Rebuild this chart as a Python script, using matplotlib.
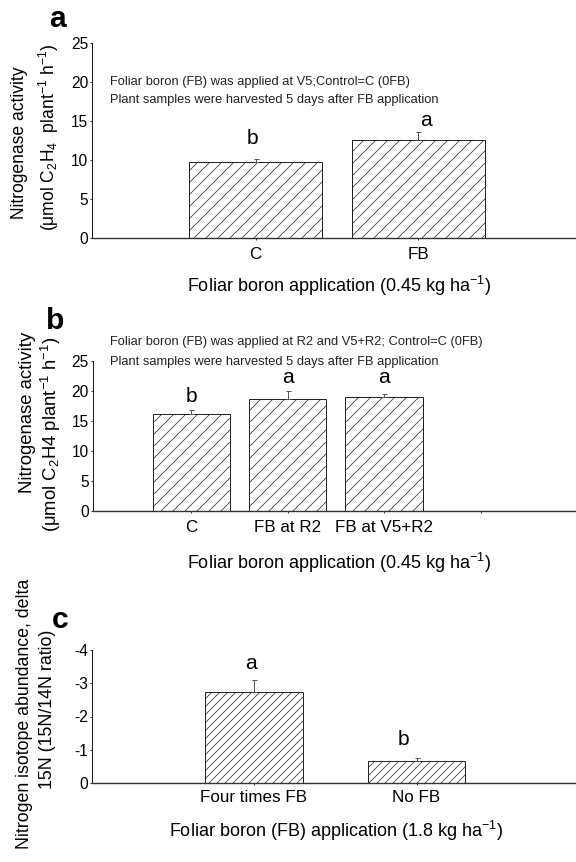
import matplotlib
matplotlib.use("Agg")
import matplotlib.pyplot as plt

plt.rcParams['font.family'] = ['Liberation Sans', 'DejaVu Sans']
plt.rcParams['mathtext.fontset'] = 'custom'
plt.rcParams['mathtext.rm'] = 'Liberation Sans'
plt.rcParams['mathtext.it'] = 'Liberation Sans:italic'
plt.rcParams['axes.unicode_minus'] = False
plt.rcParams['hatch.linewidth'] = 0.7

# Panel a: nitrogenase activity, boron at V5
a_cats = ['C', 'FB']
a_vals = [9.8, 12.6]
a_err = [0.35, 0.95]
a_letters = ['b', 'a']
a_letter_y = [12.7, 15.0]

# Panel b: nitrogenase activity, boron at R2 and V5+R2
b_cats = ['C', 'FB at R2', 'FB at V5+R2', '']
b_vals = [16.1, 18.75, 19.0]
b_err = [0.8, 1.3, 0.5]
b_letters = ['b', 'a', 'a']
b_letter_y = [19.0, 22.2, 22.2]

# Panel c: delta 15N
c_cats = ['Four times FB', 'No FB']
c_vals = [-2.75, -0.67]
c_err = [0.35, 0.07]
c_letters = ['a', 'b']
c_letter_y = [-3.6, -1.3]

W, H = 576, 862
fig = plt.figure(figsize=(W / 72, H / 72), dpi=72)

TICK_FS = 15.5
XT_FS = 17
LAB_FS = 18
NOTE_FS = 12.9
LET_FS = 21
PANEL_FS = 30


def ax_at(left, top, bottom):
    return fig.add_axes([left / W, 1 - bottom / H, 1 - left / W, (bottom - top) / H])


def style(ax):
    for s in ('top', 'right'):
        ax.spines[s].set_visible(False)
    ax.spines['left'].set_linewidth(0.9)
    ax.spines['bottom'].set_linewidth(1.4)
    ax.spines['bottom'].set_color('#333333')
    ax.tick_params(axis='y', length=2, width=0.8, labelsize=TICK_FS, pad=2)
    ax.tick_params(axis='x', length=2, width=0.8, labelsize=XT_FS, pad=7, direction='out')


def bars(ax, vals, err, width, hatch, neg=False):
    x = list(range(len(vals)))
    ax.bar(x, vals, width=width, color='white', edgecolor='#222222',
           linewidth=1.0, hatch=hatch, zorder=2)
    if neg:
        yerr = [err, [0] * len(err)]
    else:
        yerr = [[0] * len(err), err]
    ax.errorbar(x, vals, yerr=yerr, fmt='none', ecolor='#555555',
                elinewidth=1.0, capsize=2.5, capthick=1.0, zorder=3)


txt_kw = dict(fontsize=NOTE_FS, color='#222222')

# ---- panel a ----
axa = ax_at(92, 43, 238)
style(axa)
bars(axa, a_vals, a_err, 0.82, '//')
axa.set_xlim(-1.006, 1.97)
axa.set_ylim(0, 25)
axa.set_yticks([0, 5, 10, 15, 20, 25])
axa.set_xticks(range(len(a_cats)))
axa.set_xticklabels(a_cats)
for i, (t, y) in enumerate(zip(a_letters, a_letter_y)):
    axa.text(i + (0.05 if i else -0.02), y, t, ha='center', va='center', fontsize=LET_FS)
fig.text(110 / W, 1 - 82 / H, 'Foliar boron (FB) was applied at V5;Control=C (0FB)', va='center', **txt_kw)
fig.text(110 / W, 1 - 100 / H, 'Plant samples were harvested 5 days after FB application', va='center', **txt_kw)
fig.text(339 / W, 1 - 286 / H, 'Foliar boron application (0.45 kg ha$^{-1}$)', ha='center', va='center', fontsize=LAB_FS)
fig.text(20 / W, 1 - 143 / H, 'Nitrogenase activity', rotation=90, ha='center', va='center', fontsize=17.5)
fig.text(49 / W, 1 - 137 / H, '(μmol C$_2$H$_4$  plant$^{-1}$ h$^{-1}$)', rotation=90, ha='center', va='center', fontsize=17.5)
fig.text(58 / W, 1 - 19 / H, 'a', ha='center', va='center', fontsize=PANEL_FS, fontweight='bold')

# ---- panel b ----
axb = ax_at(93, 361, 511)
style(axb)
bars(axb, b_vals, b_err, 0.8, '//')
axb.set_xlim(-1.018, 3.99)
axb.set_ylim(0, 25)
axb.set_yticks([0, 5, 10, 15, 20, 25])
axb.set_xticks(range(len(b_cats)))
axb.set_xticklabels(b_cats)
for i, (t, y) in enumerate(zip(b_letters, b_letter_y)):
    axb.text(i, y, t, ha='center', va='center', fontsize=LET_FS)
fig.text(110 / W, 1 - 342 / H, 'Foliar boron (FB) was applied at R2 and V5+R2; Control=C (0FB)', va='center', **txt_kw)
fig.text(110 / W, 1 - 362 / H, 'Plant samples were harvested 5 days after FB application', va='center', **txt_kw)
fig.text(339 / W, 1 - 563 / H, 'Foliar boron application (0.45 kg ha$^{-1}$)', ha='center', va='center', fontsize=LAB_FS)
fig.text(28 / W, 1 - 412 / H, 'Nitrogenase activity', rotation=90, ha='center', va='center', fontsize=18.5)
fig.text(51 / W, 1 - 434 / H, '(μmol C$_2$H4 plant$^{-1}$ h$^{-1}$)', rotation=90, ha='center', va='center', fontsize=18.5)
fig.text(55 / W, 1 - 321 / H, 'b', ha='center', va='center', fontsize=PANEL_FS, fontweight='bold')

# ---- panel c ----
axc = ax_at(92, 650, 783)
style(axc)
bars(axc, c_vals, c_err, 0.6, '///', neg=True)
axc.set_xlim(-0.994, 1.98)
axc.set_ylim(0, -4)
axc.set_yticks([0, -1, -2, -3, -4])
axc.set_xticks(range(len(c_cats)))
axc.set_xticklabels(c_cats)
axc.tick_params(axis='x', pad=5)
for i, (t, y) in enumerate(zip(c_letters, c_letter_y)):
    axc.text(i - 0.02 - 0.06 * i, y, t, ha='center', va='center', fontsize=LET_FS)
fig.text(336 / W, 1 - 831 / H, 'Foliar boron (FB) application (1.8 kg ha$^{-1}$)', ha='center', va='center', fontsize=LAB_FS)
fig.text(25 / W, 1 - 714 / H, 'Nitrogen isotope abundance, delta', rotation=90, ha='center', va='center', fontsize=17.8)
fig.text(48 / W, 1 - 709 / H, '15N (15N/14N ratio)', rotation=90, ha='center', va='center', fontsize=17.8)
fig.text(60 / W, 1 - 620 / H, 'c', ha='center', va='center', fontsize=PANEL_FS, fontweight='bold')

fig.savefig('out.png', dpi=72)
